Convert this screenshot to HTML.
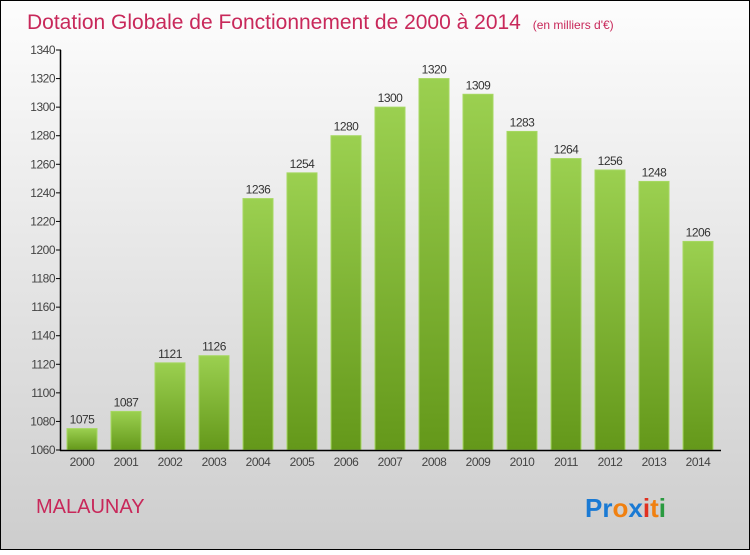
<!DOCTYPE html>
<html><head><meta charset="utf-8"><style>
body{margin:0;width:750px;height:550px;overflow:hidden;font-family:"Liberation Sans",sans-serif}
</style></head><body>
<svg id="chart" width="750" height="550" xmlns="http://www.w3.org/2000/svg">
<defs>
<linearGradient id="bg" x1="0" y1="0" x2="0" y2="1"><stop offset="0" stop-color="#fdfdfd"/><stop offset="1" stop-color="#cdcdcd"/></linearGradient>
<linearGradient id="bar" x1="0" y1="0" x2="0" y2="1"><stop offset="0" stop-color="#9bd050"/><stop offset="1" stop-color="#64981a"/></linearGradient>
</defs>
<rect x="0.5" y="0.5" width="749" height="549" fill="url(#bg)" stroke="#000"/>
<text x="27" y="29" font-size="21" fill="#c8285a">Dotation Globale de Fonctionnement de 2000 à 2014 <tspan font-size="12" dx="6">(en milliers d'€)</tspan></text>
<g id="grid"></g>
<g id="bars"></g>
<line x1="60.5" y1="50" x2="60.5" y2="451" stroke="#000" stroke-width="1.5"/>
<line x1="60" y1="450.5" x2="721" y2="450.5" stroke="#000" stroke-width="1.5"/>
<text x="36" y="513" font-size="20" fill="#c8285a">MALAUNAY</text>
<g font-size="26" font-weight="bold" font-family="Liberation Sans, sans-serif">
<text x="585" y="517" fill="#1a7ad4">Pr<tspan fill="#f08010">o</tspan><tspan fill="#1a7ad4">x</tspan><tspan fill="#e03020">i</tspan><tspan fill="#f08010">t</tspan><tspan fill="#2a9a40">i</tspan></text>
</g>
</svg>
<script>
const years=["2000","2001","2002","2003","2004","2005","2006","2007","2008","2009","2010","2011","2012","2013","2014"];
const values=[1075,1087,1121,1126,1236,1254,1280,1300,1320,1309,1283,1264,1256,1248,1206];
const yTicks=[1060,1080,1100,1120,1140,1160,1180,1200,1220,1240,1260,1280,1300,1320,1340];
const NS="http://www.w3.org/2000/svg";
const y=v=>450-(v-1060)*400/280;
const xc=i=>82+i*44;
const g=document.getElementById('grid'),b=document.getElementById('bars');
function mk(tag,attrs,parent,txt){const e=document.createElementNS(NS,tag);for(const k in attrs)e.setAttribute(k,attrs[k]);if(txt!==undefined)e.textContent=txt;parent.appendChild(e);return e;}
yTicks.forEach(t=>{
 const l=mk('line',{x1:56,x2:61,y1:y(t),y2:y(t),stroke:'#000'},g);
 
 
 const tx=mk('text',{x:55,y:y(t)+4,'font-size':12,'text-anchor':'end',fill:'#444','letter-spacing':'-0.5'},g,t);
 
 
});
years.forEach((yr,i)=>{
 const top=y(values[i]);
 const r=mk('rect',{x:xc(i)-15,y:top,width:30,height:450-top,fill:'url(#bar)',stroke:'#a6d862','stroke-width':1},b);
 
 
 const v=mk('text',{x:xc(i),y:top-5,'font-size':12,'text-anchor':'middle',fill:'#333','letter-spacing':'-0.5'},b,values[i]);
 
 
 const xl=mk('text',{x:xc(i),y:466,'font-size':12,'text-anchor':'middle',fill:'#444','letter-spacing':'-0.5'},b,yr);
 
 
});
</script>
</body></html>
